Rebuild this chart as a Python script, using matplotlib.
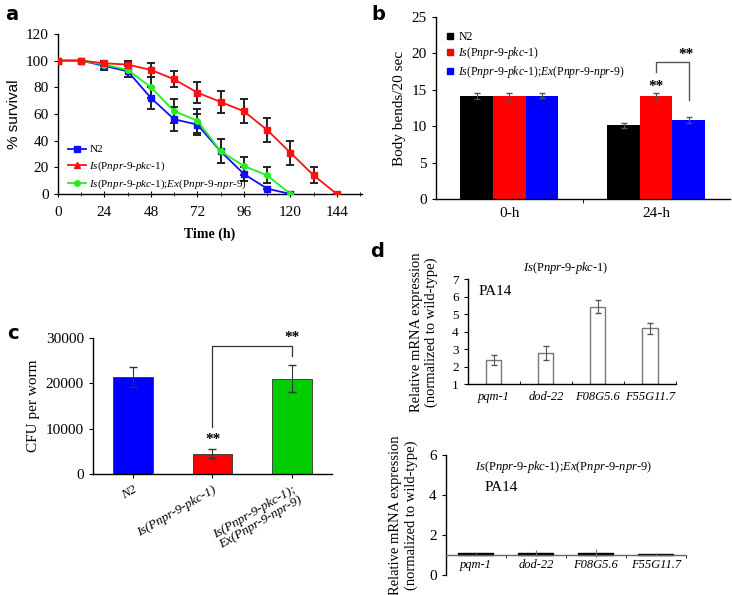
import matplotlib
matplotlib.use("Agg")
import matplotlib.pyplot as plt
from matplotlib.lines import Line2D
import numpy as np

plt.rcParams["font.family"] = ["Liberation Serif", "DejaVu Serif"]
plt.rcParams["mathtext.fontset"] = "custom"
plt.rcParams["mathtext.rm"] = "Liberation Serif"
plt.rcParams["mathtext.it"] = "Liberation Serif:italic"
plt.rcParams["axes.linewidth"] = 1.0

IS = r"$\mathit{Is}$(P$\mathit{npr}$-$\mathit{9}$-$\mathit{pkc}$-$\mathit{1}$)"
EX = r"$\mathit{Ex}$(P$\mathit{npr}$-$\mathit{9}$-$\mathit{npr}$-$\mathit{9}$)"
IS_EX = IS + ";" + EX

# panel a: survival
t_n2 = [0, 12, 24, 36, 48, 60, 72, 84, 96, 108, 120]
surv_n2 = [100, 100, 96, 92, 72, 56, 52, 32, 15, 4, 0]
err_n2 = [0, 0, 3, 4, 8, 9, 8, 9, 5, 0, 0]
t_is = [0, 12, 24, 36, 48, 60, 72, 84, 96, 108, 120, 132, 144]
surv_is = [100, 100, 98, 97, 93, 86, 76, 69, 62, 48, 31, 14, 0]
err_is = [0, 0, 2, 3, 5, 6, 8, 8, 9, 9, 9, 6, 0]
t_ex = [0, 12, 24, 36, 48, 60, 72, 84, 96, 108, 120]
surv_ex = [100, 100, 97, 93, 80, 62, 55, 32, 21, 14, 0]
err_ex = [0, 0, 3, 5, 8, 9, 9, 9, 7, 6, 0]

# panel b: body bends
b_groups = ["0-h", "24-h"]
bends_n2 = [14.1, 10.1]
bends_is = [14.1, 14.1]
bends_ex = [14.2, 10.8]
bends_n2_err = [0.4, 0.3]
bends_is_err = [0.5, 0.4]
bends_ex_err = [0.3, 0.4]

# panel c: CFU
c_labels = ["N2", "Is(Pnpr-9-pkc-1)", "Is(Pnpr-9-pkc-1);\nEx(Pnpr-9-npr-9)"]
cfu = [21400, 4500, 21000]
cfu_err = [2300, 1000, 3000]

# panel d: mRNA
genes = ["pqm-1", "dod-22", "F08G5.6", "F55G11.7"]
mrna_is = [2.4, 2.8, 5.45, 4.2]
mrna_is_err = [0.3, 0.4, 0.35, 0.3]
mrna_ex = [1.1, 1.1, 1.12, 1.05]
mrna_ex_err = [0.05, 0.15, 0.2, 0.05]

fig = plt.figure(figsize=(7.32, 5.95), dpi=100)

# ---------------- a ----------------
ax = fig.add_axes([0.0792, 0.674, 0.4153, 0.269])
BLUE, RED, GREEN = "#1010ff", "#ff1010", "#22ee22"
ax.plot(t_n2, surv_n2, color=BLUE, marker="s", ms=4, lw=1.3, zorder=3)
ax.plot(t_ex, surv_ex, color=GREEN, marker="o", ms=4, lw=1.3, zorder=3)
ax.plot(t_is, surv_is, color=RED, marker="s", ms=5, lw=1.3, zorder=3)
for t, s, e in [(t_n2, surv_n2, err_n2), (t_ex, surv_ex, err_ex), (t_is, surv_is, err_is)]:
    ax.errorbar(t, s, yerr=e, fmt="none", ecolor="#222222", elinewidth=1.4, capsize=3, capthick=1.4, zorder=2)
ax.set_xlim(0, 157)
ax.set_ylim(0, 120)
ax.set_xticks(np.arange(0, 145, 24))
ax.set_xticks(np.arange(0, 157, 12), minor=True)
ax.set_yticks(np.arange(0, 121, 20))
ax.spines["top"].set_visible(False)
ax.spines["right"].set_visible(False)
ax.tick_params(axis="x", direction="inout", length=5, labelsize=11, pad=6)
ax.tick_params(axis="x", which="minor", direction="inout", length=3)
ax.tick_params(axis="y", direction="out", length=3, labelsize=11)
ax.set_ylabel("% survival", family="Liberation Sans", fontsize=11)
ax.set_xlabel("Time (h)", fontsize=10, fontweight="bold", labelpad=6)
handles = [Line2D([], [], color=BLUE, marker="s", ms=4, lw=1.3),
           Line2D([], [], color=RED, marker="^", ms=4, lw=1.3),
           Line2D([], [], color=GREEN, marker="o", ms=4, lw=1.3)]
ax.legend(handles, ["N2", IS, IS_EX], loc="lower left", bbox_to_anchor=(0.005, -0.04),
          frameon=False, fontsize=8, handlelength=1.6, handletextpad=0.3, labelspacing=0.45, borderpad=0.3)
fig.text(0.007, 0.975, "a", family="DejaVu Sans", fontweight="bold", fontsize=14, va="center")

# ---------------- b ----------------
ax = fig.add_axes([0.5956, 0.6655, 0.401, 0.3059])
x = np.arange(len(b_groups))
w = 0.222
ax.bar(x - w, bends_n2, w, yerr=bends_n2_err, color="black", ecolor="#555555", capsize=2, error_kw={"elinewidth": 0.8})
ax.bar(x, bends_is, w, yerr=bends_is_err, color="#ff0000", ecolor="#555555", capsize=2, error_kw={"elinewidth": 0.8})
ax.bar(x + w, bends_ex, w, yerr=bends_ex_err, color="#0000ff", ecolor="#555555", capsize=2, error_kw={"elinewidth": 0.8})
ax.set_xlim(-0.5, 1.5)
ax.set_ylim(0, 25)
ax.set_yticks(np.arange(0, 26, 5))
ax.set_xticks(x)
ax.set_xticklabels(b_groups)
ax.set_xticks([0.5], minor=True)
ax.tick_params(axis="x", which="major", length=0, labelsize=11, pad=6)
ax.tick_params(axis="x", which="minor", direction="out", length=3)
ax.tick_params(axis="y", direction="out", length=3, labelsize=11)
ax.spines["top"].set_visible(False)
ax.spines["right"].set_visible(False)
ax.set_ylabel("Body bends/20 sec", fontsize=11)
ax.plot([1, 1, 1 + w, 1 + w], [17.4, 18.8, 18.8, 13.6], color="#555555", lw=1)
ax.text(1 + w - 0.02, 19.0, "**", ha="center", va="bottom", fontsize=11, fontweight="bold")
ax.text(1, 14.6, "**", ha="center", va="bottom", fontsize=11, fontweight="bold")
bh = [Line2D([], [], color=c, marker="s", ms=5, lw=0) for c in ["black", "#ff0000", "#0000ff"]]
ax.legend(bh, ["N2", IS, IS_EX], loc="upper left", bbox_to_anchor=(0.0, 0.975), frameon=False,
          fontsize=8.5, handlelength=0.8, handletextpad=0.3, labelspacing=0.2, borderpad=0.3)
fig.text(0.507, 0.975, "b", family="DejaVu Sans", fontweight="bold", fontsize=14, va="center")

# ---------------- c ----------------
ax = fig.add_axes([0.127, 0.2034, 0.3266, 0.2286])
xc = np.arange(len(cfu))
ax.bar(xc, cfu, 0.5, yerr=cfu_err, color=["#0000ff", "#ff0000", "#00cc00"], edgecolor="#333333",
       linewidth=0.6, ecolor="#333333", capsize=3, error_kw={"elinewidth": 0.8})
ax.set_xlim(-0.5, 2.5)
ax.set_ylim(0, 30000)
ax.set_yticks([0, 10000, 20000, 30000])
ax.set_xticks(xc)
ax.set_xticklabels(c_labels, rotation=30, ha="right", rotation_mode="anchor", fontsize=9.5,
                   fontstyle="italic", linespacing=1.0)
ax.tick_params(axis="x", direction="out", length=3, pad=4)
ax.tick_params(axis="y", direction="out", length=3, labelsize=11)
ax.spines["top"].set_visible(False)
ax.spines["right"].set_visible(False)
ax.set_ylabel("CFU per worm", fontsize=11)
ax.plot([1, 1, 2, 2], [10400, 28200, 28200, 26000], color="#333333", lw=0.9)
ax.text(2, 28600, "**", ha="center", va="bottom", fontsize=11, fontweight="bold")
ax.text(1, 6200, "**", ha="center", va="bottom", fontsize=11, fontweight="bold")
fig.text(0.01, 0.44, "c", family="DejaVu Sans", fontweight="bold", fontsize=14, va="center")

# ---------------- d top ----------------
ax = fig.add_axes([0.639, 0.3538, 0.2845, 0.1765])
xd = np.arange(len(genes))
ax.bar(xd, np.array(mrna_is) - 1, 0.29, bottom=1, yerr=mrna_is_err, color="white", edgecolor="#777777",
       linewidth=1.0, ecolor="#555555", capsize=2, error_kw={"elinewidth": 0.8})
ax.set_xlim(-0.5, 3.5)
ax.set_ylim(1, 7)
ax.set_yticks(np.arange(1, 8))
ax.set_xticks(xd)
ax.set_xticklabels(genes, fontstyle="italic", fontsize=9)
ax.set_xticks([0.5, 1.5, 2.5, 3.5], minor=True)
ax.tick_params(axis="x", which="major", length=0, pad=5)
ax.tick_params(axis="x", which="minor", direction="in", length=2)
ax.tick_params(axis="y", direction="out", length=3, labelsize=9.5)
ax.spines["top"].set_visible(False)
ax.spines["right"].set_visible(False)
ax.set_title(IS, fontsize=9, pad=6, x=0.47)
ax.text(0.05, 0.95, "PA14", transform=ax.transAxes, fontsize=11, va="top")
ax.set_ylabel("Relative mRNA expression\n(normalized to wild-type)", fontsize=10.5, labelpad=10)
fig.text(0.505, 0.578, "d", family="DejaVu Sans", fontweight="bold", fontsize=14, va="center")

# ---------------- d bottom ----------------
ax = fig.add_axes([0.609, 0.0336, 0.328, 0.2017])
ax.spines["bottom"].set_position(("data", 1))
ax.spines["bottom"].set_color("#666666")
ax.bar(xd, np.array(mrna_ex) - 1, 0.58, bottom=1, yerr=mrna_ex_err, color="black", edgecolor="black",
       ecolor="#777777", capsize=0, error_kw={"elinewidth": 0.8})
ax.set_xlim(-0.5, 3.5)
ax.set_ylim(0, 6)
ax.set_yticks([0, 2, 4, 6])
ax.set_xticks(xd)
ax.set_xticklabels(genes, fontstyle="italic", fontsize=9)
ax.set_xticks([0.5, 1.5, 2.5, 3.5], minor=True)
ax.tick_params(axis="x", which="major", length=0, pad=3)
ax.tick_params(axis="x", which="minor", direction="out", length=2)
ax.tick_params(axis="y", direction="out", length=3, labelsize=11)
ax.spines["top"].set_visible(False)
ax.spines["right"].set_visible(False)
ax.text(0.49, 0.97, IS_EX, transform=ax.transAxes, fontsize=9, ha="center", va="top")
ax.text(0.16, 0.78, "PA14", transform=ax.transAxes, fontsize=11, va="top")
ax.set_ylabel("Relative mRNA expression\n(normalized to wild-type)", fontsize=10.5, labelpad=8)

fig.savefig("out.png", dpi=100)
